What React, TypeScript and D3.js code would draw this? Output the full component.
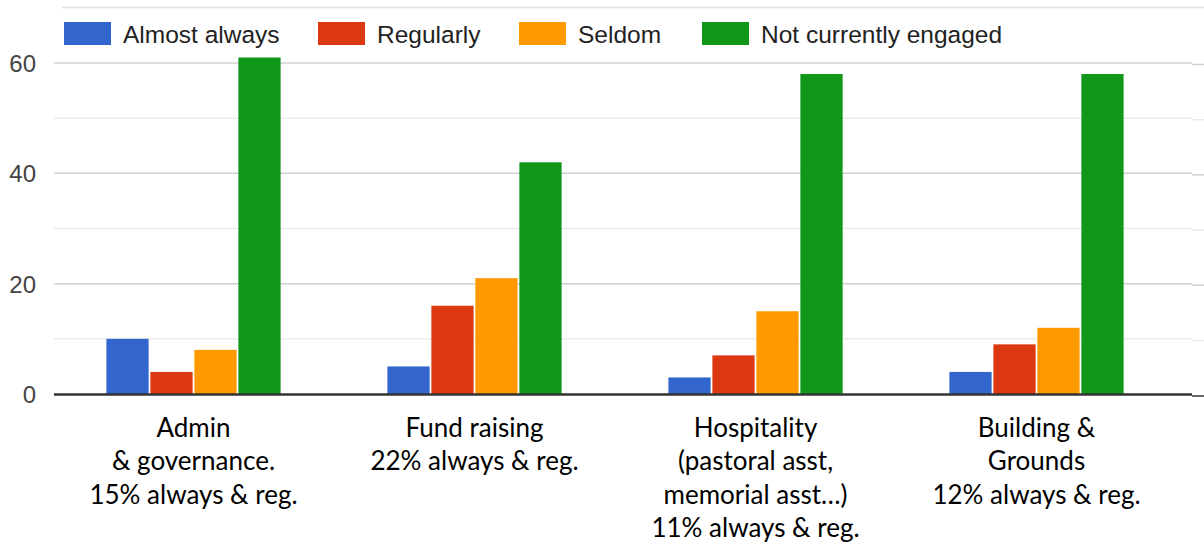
import React from "react";
import * as d3 from "d3";

const categories = ["Admin", "Fund raising", "Hospitality", "Building & Grounds"];
const categoryLines = [
  ["Admin", "& governance.", "15% always & reg."],
  ["Fund raising", "22% always & reg."],
  ["Hospitality", "(pastoral asst,", "memorial asst…)", "11% always & reg."],
  ["Building &", "Grounds", "12% always & reg."],
];
const seriesNames = ["Almost always", "Regularly", "Seldom", "Not currently engaged"];
const seriesColors = ["#3366cc", "#dc3912", "#ff9900", "#109618"];
const almostAlways = [10, 5, 3, 4];
const regularly = [4, 16, 7, 9];
const seldom = [8, 21, 15, 12];
const notEngaged = [61, 42, 58, 58];
const seriesValues = [almostAlways, regularly, seldom, notEngaged];
const majorTicks = [0, 20, 40, 60];
const minorTicks = [10, 30, 50];
const legendX = [64, 318, 519, 702];

const W = 1204;
const H = 545;

export default function App() {
  const x0 = d3
    .scaleBand<string>()
    .domain(categories)
    .range([53, 1177])
    .paddingInner(0.38)
    .paddingOuter(0.19);
  const x1 = d3
    .scaleBand<string>()
    .domain(seriesNames)
    .range([0, x0.bandwidth()])
    .paddingInner(0.04);
  const y = d3.scaleLinear().domain([0, 60]).range([394, 63]);
  const plotLeft = 54;
  const plotRight = 1192;

  return (
    <svg
      width={W}
      height={H}
      style={{ position: "absolute", left: 0, top: 0, background: "#fff" }}
    >
      <rect x={0} y={0} width={W} height={H} fill="#fff" />
      <line x1={62} x2={W} y1={7.5} y2={7.5} stroke="#e3e3e3" strokeWidth={1.5} />
      {minorTicks.map((t) => (
        <g key={"mi" + t}>
          <line x1={plotLeft} x2={plotRight} y1={y(t)} y2={y(t)} stroke="#ebebeb" strokeWidth={1.5} />
          <line x1={plotRight} x2={W} y1={y(t) + 1.5} y2={y(t) + 1.5} stroke="#ebebeb" strokeWidth={1.5} />
        </g>
      ))}
      {majorTicks.filter((t) => t !== 0).map((t) => (
        <g key={"ma" + t}>
          <line x1={plotLeft} x2={plotRight} y1={y(t)} y2={y(t)} stroke="#d0d0d0" strokeWidth={1.5} />
          <line x1={plotRight} x2={W} y1={y(t) + 1.5} y2={y(t) + 1.5} stroke="#d0d0d0" strokeWidth={1.5} />
        </g>
      ))}
      {majorTicks.map((t) => (
        <text
          key={"tl" + t}
          x={36}
          y={y(t) + 9}
          textAnchor="end"
          fontFamily="'Liberation Sans', Arial, sans-serif"
          fontSize={24}
          fill="#444"
        >
          {t}
        </text>
      ))}
      {categories.map((c, ci) => (
        <g key={c} transform={`translate(${x0(c)},0)`}>
          {seriesNames.map((s, si) => {
            const v = seriesValues[si][ci];
            return (
              <rect
                key={s}
                x={x1(s)}
                y={y(v)}
                width={x1.bandwidth()}
                height={y(0) - y(v)}
                fill={seriesColors[si]}
              />
            );
          })}
        </g>
      ))}
      <line x1={plotLeft} x2={plotRight} y1={394.5} y2={394.5} stroke="#333" strokeWidth={2.6} />
      <line x1={plotRight} x2={W} y1={396} y2={396} stroke="#666" strokeWidth={2} />
      {categories.map((c, ci) => (
        <text
          key={"cl" + c}
          x={(x0(c) as number) + x0.bandwidth() / 2}
          y={436.5}
          textAnchor="middle"
          fontFamily="Lato, 'Open Sans', sans-serif"
          fontSize={26}
          fill="#000"
        >
          {categoryLines[ci].map((ln, li) => (
            <tspan key={li} x={(x0(c) as number) + x0.bandwidth() / 2} dy={li === 0 ? 0 : 33.5}>
              {ln}
            </tspan>
          ))}
        </text>
      ))}
      {seriesNames.map((s, si) => (
        <g key={"lg" + s} transform={`translate(${legendX[si]},22)`}>
          <rect x={0} y={0} width={47} height={23} fill={seriesColors[si]} />
          <text
            x={59}
            y={20.5}
            fontFamily="'Liberation Sans', Arial, sans-serif"
            fontSize={24.5}
            fill="#222"
          >
            {s}
          </text>
        </g>
      ))}
    </svg>
  );
}
